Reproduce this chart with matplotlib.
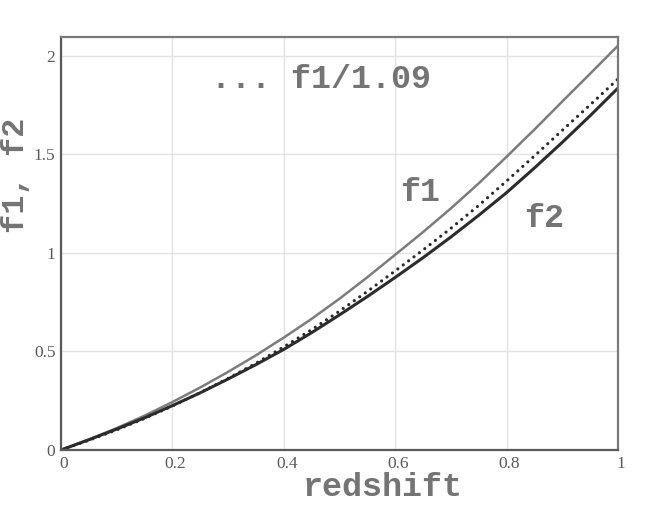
import matplotlib
matplotlib.use("Agg")
import matplotlib.pyplot as plt
from matplotlib.transforms import ScaledTranslation

# redshift samples
z = [0.0, 0.05, 0.1, 0.15, 0.2, 0.25, 0.3, 0.35, 0.4, 0.45, 0.5,
     0.55, 0.6, 0.65, 0.7, 0.75, 0.8, 0.85, 0.9, 0.95, 1.0]
# values
f1 = [0.0, 0.053, 0.111, 0.174, 0.243, 0.317, 0.396, 0.480, 0.570, 0.665, 0.767,
      0.876, 0.990, 1.105, 1.225, 1.352, 1.487, 1.625, 1.767, 1.908, 2.050]
f2 = [0.0, 0.052, 0.106, 0.163, 0.225, 0.290, 0.360, 0.433, 0.510, 0.595, 0.685,
      0.778, 0.875, 0.975, 1.080, 1.190, 1.305, 1.430, 1.560, 1.695, 1.835]
f1_scaled = [0.0, 0.049, 0.102, 0.160, 0.223, 0.291, 0.363, 0.440, 0.523, 0.610, 0.704,
             0.804, 0.908, 1.014, 1.124, 1.240, 1.364, 1.491, 1.621, 1.750, 1.881]

xticks = [0, 0.2, 0.4, 0.6, 0.8, 1]
xticklabels = ["0", "0.2", "0.4", "0.6", "0.8", "1"]
yticks = [0, 0.5, 1, 1.5, 2]
yticklabels = ["0", "0.5", "1", "1.5", "2"]

mono = "Liberation Mono"
serif = "Liberation Serif"
txt_color = "#747474"
fs = 24

fig = plt.figure(figsize=(6.59, 5.08), dpi=100)
ax = fig.add_axes([61/659, 1-450/508, 557/659, 413/508])

ax.plot(z, f1, color="#7c7c7c", lw=1.8, solid_capstyle="butt")
ax.plot(z, f2, color="#2c2c2c", lw=2.2, solid_capstyle="butt")
ax.plot(z, f1_scaled, color="#2a2a2a", lw=2.3, linestyle=(0, (0.01, 2.1)),
        dash_capstyle="round")

ax.set_xlim(0, 1)
ax.set_ylim(0, 2.094)
ax.set_xticks(xticks)
ax.set_xticklabels(xticklabels)
ax.set_yticks(yticks)
ax.set_yticklabels(yticklabels)
ax.tick_params(length=0, labelsize=12.5, labelcolor="#5a5a5a", pad=4)
off = ScaledTranslation(3/100, 0, fig.dpi_scale_trans)
for lab in ax.get_xticklabels():
    lab.set_family(serif)
    lab.set_transform(lab.get_transform() + off)
for lab in ax.get_yticklabels():
    lab.set_family(serif)

ax.grid(True, color="#e2e2e2", lw=1)
ax.set_axisbelow(True)
for side in ["left", "bottom"]:
    ax.spines[side].set_color("#5a5a5a")
    ax.spines[side].set_linewidth(1.6)
for side in ["top", "right"]:
    ax.spines[side].set_color("#7a7a7a")
    ax.spines[side].set_linewidth(1.6)

ax.set_xlabel("redshift", family=mono, weight="bold", fontsize=fs, color=txt_color)
ax.xaxis.label.set_va("center")
ax.xaxis.set_label_coords(0.578, -0.092)
ax.set_ylabel("f1, f2", family=mono, weight="bold", fontsize=23, color=txt_color)
ax.yaxis.label.set_va("center")
ax.yaxis.set_label_coords(-0.080, 0.666)

ax.text(0.645, 1.306, "f1", family=mono, weight="bold", fontsize=fs,
        color=txt_color, ha="center", va="center")
ax.text(0.867, 1.175, "f2", family=mono, weight="bold", fontsize=fs,
        color=txt_color, ha="center", va="center")
ax.text(0.27, 1.88, "... f1/1.09", family=mono, weight="bold", fontsize=fs,
        color=txt_color, ha="left", va="center")

fig.savefig("out.png", dpi=100)
